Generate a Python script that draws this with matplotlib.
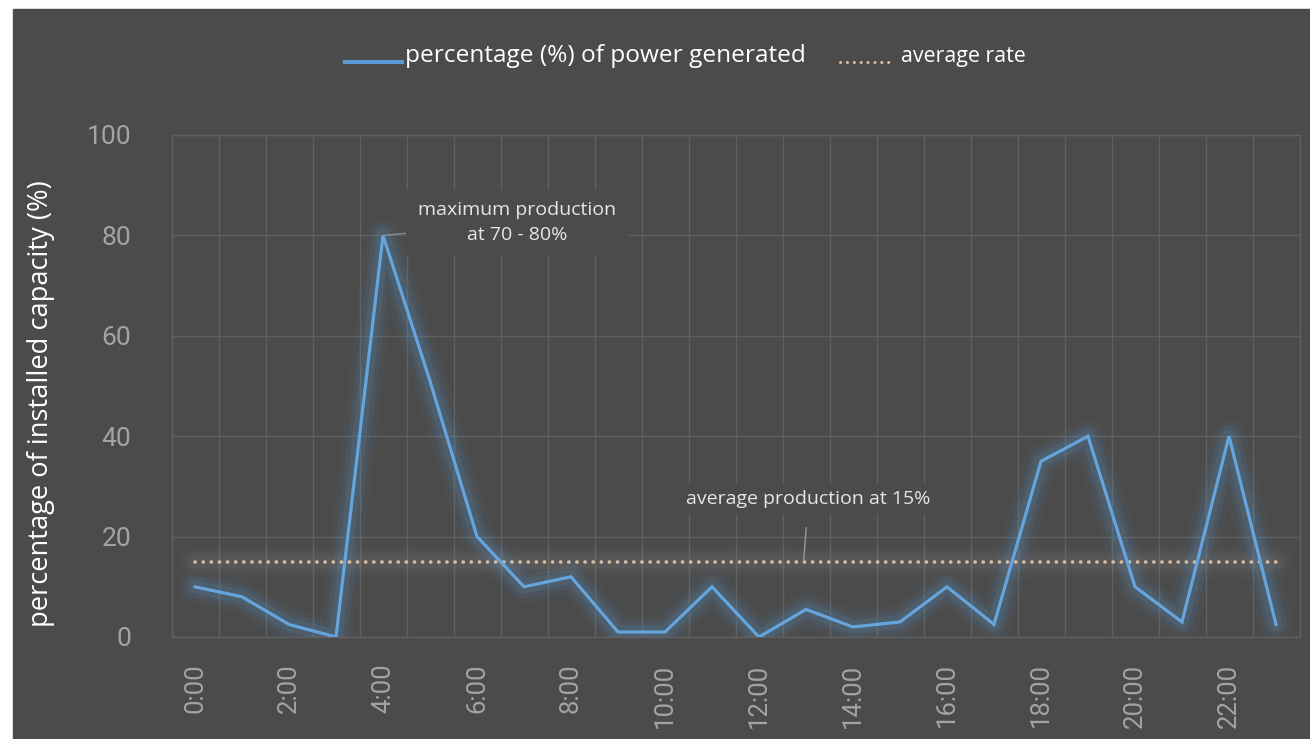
import numpy as np
import matplotlib
matplotlib.use("Agg")
import matplotlib.pyplot as plt
from matplotlib.lines import Line2D
from matplotlib.patches import Rectangle

# -----------------------------
# Data
# -----------------------------
hours = list(range(24))
power_pct = [10, 8, 2.5, 0, 80, 51, 20, 10, 12, 1, 1, 10,
             0, 5.5, 2, 3, 10, 2.5, 35, 40, 10, 3, 40, 2.5]
average_rate = 15
tick_hours = [0, 2, 4, 6, 8, 10, 12, 14, 16, 18, 20, 22]
tick_labels = ["0:00", "2:00", "4:00", "6:00", "8:00", "10:00",
               "12:00", "14:00", "16:00", "18:00", "20:00", "22:00"]
y_ticks = [0, 20, 40, 60, 80, 100]

legend_power = "percentage (%) of power generated"
legend_avg = "average rate"
note_max = "maximum production\nat 70 - 80%"
note_avg = "average production at 15%"
y_title = "percentage of installed capacity (%)"

# -----------------------------
# Style
# -----------------------------
bg = "#4b4b4b"
grid_c = "#606060"
blue = "#5b9bd5"
dot_c = "#dcbc9e"
tick_c = "#a4a4a4"
txt_font = ["Open Sans", "DejaVu Sans"]
num_font = ["Roboto", "DejaVu Sans"]

fig = plt.figure(figsize=(13.1, 7.39), dpi=100, facecolor="white")
# dark panel (white strip left and top like the screenshot)
fig.patches.append(Rectangle((13 / 1310, 0), 1, 1 - 9 / 739,
                             transform=fig.transFigure, color=bg, zorder=-10))

ax = fig.add_axes([171.5 / 1310, 1 - 637 / 739, 1128 / 1310, 502 / 739])
ax.set_facecolor(bg)

# soft glow under the lines
for lw, a in [(24, 0.05), (16, 0.09), (10, 0.13)]:
    ax.plot(hours, [average_rate] * len(hours), color="#a0a0a0", lw=lw,
            alpha=a * 0.6, solid_capstyle="round", zorder=2)
    ax.plot(hours, power_pct, color=blue, lw=lw, alpha=a,
            solid_joinstyle="round", solid_capstyle="round", zorder=3)

ax.plot(hours, [average_rate] * len(hours), color=dot_c, lw=2.6,
        linestyle=(0, (0.05, 2.2)), dash_capstyle="round", zorder=4)
ax.plot(hours, power_pct, color="#65a5de", lw=2.3,
        solid_joinstyle="miter", zorder=5)

# axes, grid
ax.set_xlim(-0.5, 23.5)
ax.set_ylim(0, 100)
ax.set_xticks(tick_hours)
ax.set_xticklabels(tick_labels, rotation=90, family=num_font,
                   fontsize=18.5, color=tick_c)
ax.set_xticks(np.arange(-0.5, 24, 1), minor=True)
ax.set_yticks(y_ticks)
ax.set_yticklabels([str(v) for v in y_ticks], family=num_font,
                   fontsize=19, color=tick_c)
ax.tick_params(axis="both", which="both", length=0)
ax.tick_params(axis="x", pad=19)
ax.tick_params(axis="y", pad=29)
ax.grid(axis="x", which="minor", color=grid_c, lw=1, zorder=0)
ax.grid(axis="y", which="major", color=grid_c, lw=1, zorder=0)
ax.set_axisbelow(True)
for s in ax.spines.values():
    s.set_color(grid_c)
    s.set_linewidth(1)

ax.set_ylabel(y_title, color="white", family=txt_font, fontsize=19.6)
ax.yaxis.set_label_coords(-0.103, 0.465)

# annotations
ax.annotate(note_max, xy=(4, 80), xytext=(6.85, 82.5),
            ha="center", va="center", color="#e6e6e6", family=txt_font,
            fontsize=14, linespacing=1.5, zorder=6,
            bbox=dict(boxstyle="square,pad=0.6", fc=bg, ec="none"),
            arrowprops=dict(arrowstyle="-", color="#8c8c8c", lw=1,
                            shrinkA=0, shrinkB=0))
ax.annotate(note_avg, xy=(12.95, 15), xytext=(13.05, 27.5),
            ha="center", va="center", color="#e6e6e6", family=txt_font,
            fontsize=14, zorder=6,
            bbox=dict(boxstyle="square,pad=0.3", fc=bg, ec="none"),
            arrowprops=dict(arrowstyle="-", color="#9a9a9a", lw=1,
                            shrinkA=10, shrinkB=1))

# legend drawn by hand at the top
ly = 1 - 62 / 739
fig.add_artist(Line2D([345 / 1310, 402 / 1310], [ly, ly], color=blue, lw=3,
                      transform=fig.transFigure))
fig.text(405 / 1310, ly, legend_power, color="white", family=txt_font,
         fontsize=17.6, va="baseline", ha="left")
fig.add_artist(Line2D([840 / 1310, 889 / 1310], [ly, ly], color=dot_c, lw=2.2,
                      linestyle=(0, (0.05, 2.2)), dash_capstyle="round",
                      transform=fig.transFigure))
fig.text(901 / 1310, ly, legend_avg, color="white", family=txt_font,
         fontsize=15.4, va="baseline", ha="left")

fig.savefig("out.png", dpi=100, facecolor=fig.get_facecolor())
